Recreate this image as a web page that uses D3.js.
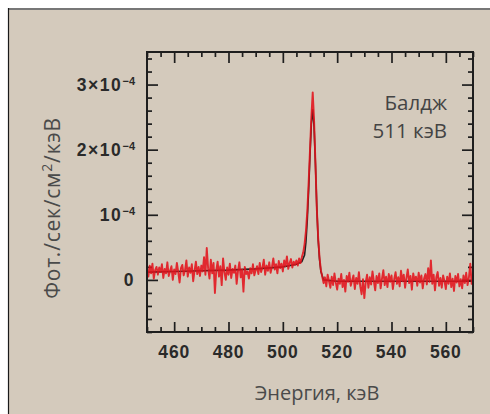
<!DOCTYPE html>
<html><head><meta charset="utf-8">
<script src="https://cdn.jsdelivr.net/npm/d3@7"></script>
<style>
html,body{margin:0;padding:0;background:#fff;}
svg{display:block;}
</style></head>
<body>
<svg id="chart" width="490" height="414"></svg>
<script>
// ---- data (flux in units of 10^-4 photons/s/cm^2/keV) ----
const binStart = 450;      // keV, first bin energy
const binWidth = 0.5;      // keV
const observedFlux = [
  0.18, 0.05, 0.22, 0.10, 0.25, 0.02, 0.15, 0.20, 0.08, 0.19,
  0.12, 0.24, 0.03, 0.17, 0.10, 0.27, 0.06, 0.14, 0.21, 0.00,
  0.16, 0.09, 0.26, 0.12, -0.04, 0.18, 0.23, 0.07, 0.15, 0.30,
  0.05, 0.19, 0.11, 0.24, -0.02, 0.14, 0.28, 0.09, 0.20, 0.06,
  0.22, 0.13, 0.35, 0.08, 0.49, 0.18, 0.02, 0.31, 0.10, 0.26,
  -0.20, 0.15, 0.28, 0.05, 0.21, -0.08, 0.33, 0.12, 0.00, 0.19,
  0.08, 0.25, 0.03, 0.17, 0.11, 0.22, -0.06, 0.14, 0.27, 0.04,
  0.16, -0.18, 0.20, 0.09, 0.13, 0.02, 0.18, 0.10, 0.24, 0.07,
  0.15, 0.21, 0.09, 0.26, 0.12, 0.19, 0.31, 0.08, 0.22, 0.14,
  0.27, 0.11, 0.20, 0.33, 0.16, 0.24, 0.10, 0.29, 0.18, 0.25,
  0.13, 0.30, 0.21, 0.36, 0.17, 0.26, 0.32, 0.19, 0.28, 0.23,
  0.30, 0.22, 0.33, 0.26, 0.35, 0.42, 0.55, 0.75, 1.05, 1.50,
  2.00, 2.50, 2.88, 2.45, 1.80, 1.10, 0.65, 0.35, 0.15, 0.05,
  -0.05, 0.04, -0.10, 0.08, -0.02, -0.12, 0.05, -0.08, 0.10, -0.04,
  -0.15, 0.02, -0.06, 0.09, -0.11, 0.00, -0.18, 0.06, -0.03, 0.11,
  -0.09, -0.01, 0.07, -0.14, 0.03, -0.06, 0.12, -0.10, -0.22, 0.01,
  -0.28, -0.04, 0.08, -0.12, 0.04, -0.07, 0.13, -0.02, -0.16, 0.06,
  -0.05, 0.10, -0.13, 0.02, 0.15, -0.08, 0.05, -0.11, 0.09, -0.03,
  0.07, -0.14, 0.01, 0.12, -0.06, 0.04, -0.10, 0.14, -0.02, 0.08,
  -0.12, 0.03, 0.16, -0.05, 0.06, -0.15, 0.10, -0.01, 0.05, -0.09,
  0.11, -0.04, 0.07, -0.13, 0.02, 0.09, -0.07, 0.18, -0.03, 0.30,
  -0.06, 0.08, -0.16, 0.04, 0.12, -0.09, 0.03, -0.12, 0.07, -0.02,
  -0.14, 0.05, -0.06, 0.10, -0.11, 0.02, -0.17, 0.06, -0.04, 0.09,
  -0.10, 0.01, -0.13, 0.07, -0.05, 0.11, -0.08, 0.04, 0.25, -0.06,
  0.03
];
const modelEnergy = [450, 460, 470, 480, 490, 500, 505, 507, 508, 508.5, 509, 509.5, 510, 510.5, 511, 511.5, 512, 512.5, 513, 513.5, 514, 515, 520, 530, 540, 550, 560, 570];
const modelFlux   = [0.12, 0.13, 0.14, 0.15, 0.17, 0.20, 0.24, 0.28, 0.38, 0.58, 0.92, 1.38, 1.92, 2.40, 2.62, 2.35, 1.78, 1.12, 0.62, 0.32, 0.13, 0.00, -0.02, -0.02, -0.02, -0.02, -0.02, -0.02];

const xMajorTicks = [460, 480, 500, 520, 540, 560];
const xTickLabels = ["460", "480", "500", "520", "540", "560"];
const yMajorTicks = [0, 1, 2, 3];
const yTickMantissa = ["0", "10", "2×10", "3×10"];
const yTickExponent = ["", "−4", "−4", "−4"];
const xTitle = "Энергия, кэВ";
const yTitleMain = "Фот./сек/см";
const yTitleSup = "2";
const yTitleEnd = "/кэВ";
const annotation = ["Балдж", "511 кэВ"];

// ---- layout ----
const svg = d3.select("#chart");
const L = 147, R = 473, T = 52, B = 332;
const x = d3.scaleLinear().domain([450, 570]).range([L, R]);
const y = d3.scaleLinear().domain([-0.8, 3.5]).range([B, T]);

svg.append("rect").attr("x", 8).attr("y", 8).attr("width", 482).attr("height", 406).attr("fill", "#d4cabc");
svg.append("line").attr("x1", 8).attr("x2", 490).attr("y1", 9).attr("y2", 9).attr("stroke", "#777").attr("stroke-width", 2);
svg.append("line").attr("x1", 8.5).attr("x2", 8.5).attr("y1", 8).attr("y2", 414).attr("stroke", "#1a1a1a").attr("stroke-width", 1.2);

const xMinor = d3.range(450, 571, 5).filter(v => !xMajorTicks.includes(v));
const yMinor = d3.range(-8, 36, 2).map(v => v / 10).filter(v => !yMajorTicks.includes(v));

function styleAxis(g) {
  g.select(".domain").remove();
  g.selectAll(".tick line").attr("stroke", "#1e1e1e").attr("stroke-width", 1.7);
  g.selectAll(".tick text").remove();
}
// bottom
svg.append("g").attr("transform", `translate(0,${B})`).call(d3.axisBottom(x).tickValues(xMajorTicks).tickSize(-10)).call(styleAxis);
svg.append("g").attr("transform", `translate(0,${B})`).call(d3.axisBottom(x).tickValues(xMinor).tickSize(-5)).call(styleAxis);
// top
svg.append("g").attr("transform", `translate(0,${T})`).call(d3.axisTop(x).tickValues(xMajorTicks).tickSize(-11)).call(styleAxis);
svg.append("g").attr("transform", `translate(0,${T})`).call(d3.axisTop(x).tickValues(xMinor).tickSize(-5)).call(styleAxis);
// left
svg.append("g").attr("transform", `translate(${L},0)`).call(d3.axisLeft(y).tickValues(yMajorTicks).tickSize(-11)).call(styleAxis);
svg.append("g").attr("transform", `translate(${L},0)`).call(d3.axisLeft(y).tickValues(yMinor).tickSize(-5)).call(styleAxis);
// right
svg.append("g").attr("transform", `translate(${R},0)`).call(d3.axisRight(y).tickValues(yMajorTicks).tickSize(-11)).call(styleAxis);
svg.append("g").attr("transform", `translate(${R},0)`).call(d3.axisRight(y).tickValues(yMinor).tickSize(-5)).call(styleAxis);

// data lines
svg.append("clipPath").attr("id", "clip").append("rect").attr("x", L).attr("y", T).attr("width", R - L).attr("height", B - T);
const plot = svg.append("g").attr("clip-path", "url(#clip)");
const model = modelEnergy.map((e, i) => [e, modelFlux[i]]);
const obs = observedFlux.map((v, i) => [binStart + i * binWidth, v]);
const line = d3.line().x(d => x(d[0])).y(d => y(d[1]));
plot.append("path").datum(model).attr("d", line).attr("fill", "none").attr("stroke", "#222").attr("stroke-width", 1.6);
plot.append("path").datum(obs).attr("d", line).attr("fill", "none").attr("stroke", "#e3121b").attr("stroke-width", 1.9).attr("stroke-opacity", 0.88).attr("stroke-linejoin", "round");

// frame
svg.append("rect").attr("x", L).attr("y", T).attr("width", R - L).attr("height", B - T).attr("fill", "none").attr("stroke", "#1e1e1e").attr("stroke-width", 2);

// x tick labels
svg.append("g").selectAll("text").data(xMajorTicks).join("text")
  .attr("x", d => x(d)).attr("y", 358).attr("text-anchor", "middle")
  .attr("font-family", "Liberation Sans, Arial, sans-serif").attr("font-size", 17.5).attr("font-weight", "bold")
  .attr("letter-spacing", 0.8)
  .attr("fill", "#2a2a2a").text((d, i) => xTickLabels[i]);

// y tick labels
const yl = svg.append("g").selectAll("text").data(yMajorTicks).join("text")
  .attr("x", 135).attr("y", d => y(d) + 6).attr("text-anchor", "end")
  .attr("font-family", "Liberation Sans, Arial, sans-serif").attr("font-size", 17.5).attr("font-weight", "bold")
  .attr("letter-spacing", 1.6)
  .attr("fill", "#2a2a2a");
yl.append("tspan").text((d, i) => yTickMantissa[i]);
yl.append("tspan").attr("dy", -6).attr("font-size", 11).attr("letter-spacing", 0).text((d, i) => yTickExponent[i]);

// axis titles
svg.append("text").attr("x", 317).attr("y", 400).attr("text-anchor", "middle")
  .attr("font-family", "Open Sans, Noto Sans, sans-serif").attr("font-size", 20).attr("fill", "#4a4a4a").text(xTitle);
const yt = svg.append("text").attr("transform", "translate(60,208) rotate(-90)").attr("text-anchor", "middle")
  .attr("font-family", "Open Sans, Noto Sans, sans-serif").attr("font-size", 21).attr("letter-spacing", 0.8).attr("fill", "#4a4a4a");
yt.append("tspan").text(yTitleMain);
yt.append("tspan").attr("dy", -8).attr("font-size", 14).text(yTitleSup);
yt.append("tspan").attr("dy", 8).text(yTitleEnd);

// annotation
svg.append("g").selectAll("text").data(annotation).join("text")
  .attr("x", 447).attr("y", (d, i) => 110 + i * 28).attr("text-anchor", "end")
  .attr("font-family", "Open Sans, Noto Sans, sans-serif").attr("font-size", 20.5).attr("fill", "#444")
  .text(d => d);
</script>
</body></html>
